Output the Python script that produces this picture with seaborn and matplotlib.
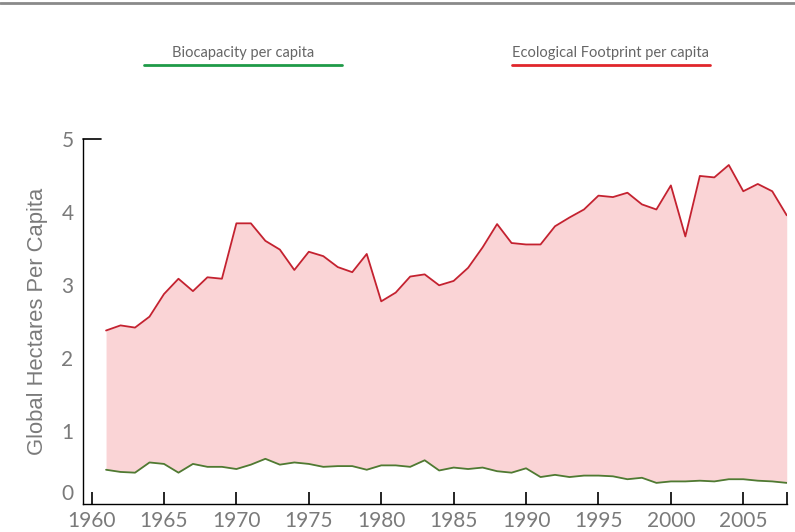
import matplotlib
matplotlib.use("Agg")
import matplotlib.pyplot as plt
from matplotlib.lines import Line2D
import numpy as np
import pandas as pd
import seaborn as sns

# --- data (global hectares per capita) ---
years = list(range(1961, 2009))
footprint = [2.38, 2.45, 2.42, 2.57, 2.88, 3.09, 2.92, 3.11, 3.09, 3.85,
             3.85, 3.61, 3.49, 3.21, 3.46, 3.40, 3.25, 3.18, 3.43, 2.78,
             2.90, 3.12, 3.15, 3.00, 3.06, 3.24, 3.52, 3.84, 3.58, 3.56,
             3.56, 3.81, 3.93, 4.04, 4.23, 4.21, 4.27, 4.11, 4.04, 4.37,
             3.67, 4.50, 4.48, 4.65, 4.29, 4.39, 4.29, 3.96]
biocapacity = [0.47, 0.44, 0.43, 0.57, 0.55, 0.43, 0.55, 0.51, 0.51, 0.48,
               0.54, 0.62, 0.54, 0.57, 0.55, 0.51, 0.52, 0.52, 0.47, 0.53,
               0.53, 0.51, 0.60, 0.46, 0.50, 0.48, 0.50, 0.45, 0.43, 0.49,
               0.37, 0.40, 0.37, 0.39, 0.39, 0.38, 0.34, 0.36, 0.29, 0.31,
               0.31, 0.32, 0.31, 0.34, 0.34, 0.32, 0.31, 0.29]
tick_years = [1960, 1965, 1970, 1975, 1980, 1985, 1990, 1995, 2000, 2005]

df = pd.DataFrame({"year": years, "footprint": footprint, "biocapacity": biocapacity})

sns.set_style("white")
plt.rcParams["font.family"] = ["Lato", "DejaVu Sans"]

fig = plt.figure(figsize=(7.95, 5.32), dpi=100)
ax = fig.add_axes([0.1048, 0.0526, 0.8848, 0.6852])

grey = "#7a7a7a"

# zona entre las dos curvas
ax.fill_between(df["year"], df["biocapacity"], df["footprint"], color="#fad4d6", lw=0)
sns.lineplot(data=df, x="year", y="footprint", color="#c42230", lw=1.3, ax=ax)
sns.lineplot(data=df, x="year", y="biocapacity", color="#4f7a32", lw=1.3, ax=ax)

ax.set_xlim(1959.43, 2008)
ax.set_ylim(0, 5)
ax.set_xticks(tick_years + [2008])
ax.set_xticklabels([str(y) for y in tick_years] + [""])
ax.set_yticks([0, 1, 2, 3, 4, 5])

for s in ["top", "right"]:
    ax.spines[s].set_visible(False)
for s in ["left", "bottom"]:
    ax.spines[s].set_color("black")
    ax.spines[s].set_linewidth(1.0)

ax.tick_params(axis="x", direction="in", length=9, width=1.2, color="black",
               labelsize=15, labelcolor=grey, pad=5, bottom=True)
ax.tick_params(axis="y", length=0, labelsize=15, labelcolor=grey, pad=7)
# el "0" un poco mas arriba para no chocar con "1960"
ax.get_yticklabels()[0].set_verticalalignment("bottom")
# marca horizontal en la parte superior del eje y
ax.plot([1959.43, 1960.65], [5, 5], color="black", lw=1.2, clip_on=False)

ax.set_xlabel("")
ax.set_ylabel("Global Hectares Per Capita", fontsize=15.8, color=grey, labelpad=10,
              family=["Liberation Sans", "DejaVu Sans"])

# leyenda manual arriba
fig.add_artist(Line2D([0, 1], [1 - 3 / 532, 1 - 3 / 532], color="#8a8a8a", lw=2))
fig.add_artist(Line2D([144 / 795, 342 / 795], [1 - 65 / 532] * 2, color="#1f9a48", lw=2))
fig.add_artist(Line2D([512 / 795, 710 / 795], [1 - 65 / 532] * 2, color="#e0262b", lw=2))
fig.text(243 / 795, 1 - 53 / 532, "Biocapacity per capita", ha="center", va="center",
         fontsize=10.5, color="#666666")
fig.text(611 / 795, 1 - 53 / 532, "Ecological Footprint per capita", ha="center", va="center",
         fontsize=10.5, color="#666666")

fig.savefig("out.png", dpi=100)
